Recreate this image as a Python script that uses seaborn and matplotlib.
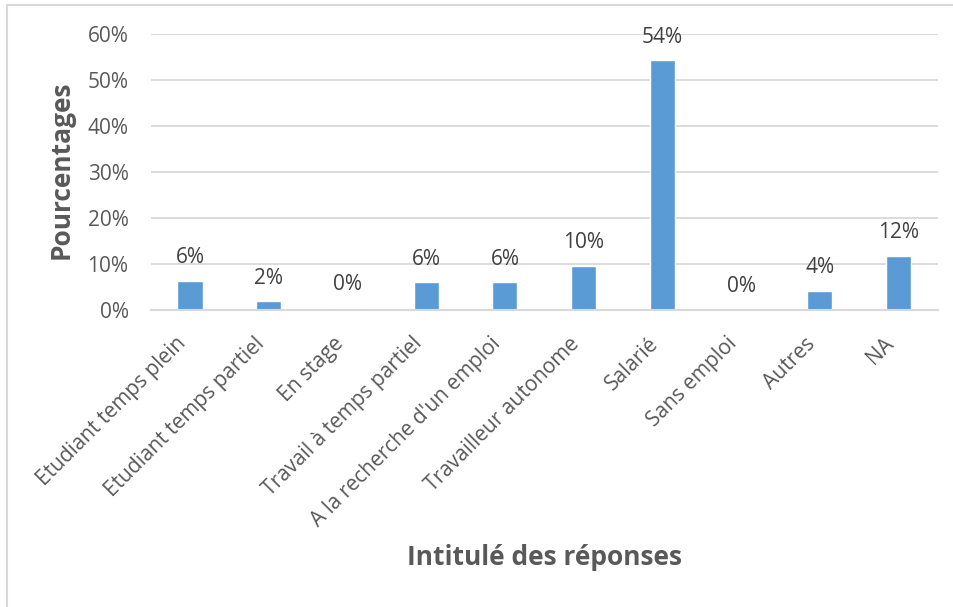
import matplotlib
matplotlib.use('Agg')
import matplotlib.pyplot as plt
from matplotlib.patches import Rectangle
import seaborn as sns

# values (percent)
categories = ['Etudiant temps plein', 'Etudiant temps partiel', 'En stage',
              'Travail à temps partiel', "A la recherche d'un emploi",
              'Travailleur autonome', 'Salarié', 'Sans emploi', 'Autres', 'NA']
values = [6.3, 1.8, 0.4, 5.9, 5.9, 9.5, 54.2, 0.0, 4.1, 11.7]
ytick_values = [0, 10, 20, 30, 40, 50, 60]

sns.set_theme(style='white')
plt.rcParams['font.family'] = ['Open Sans', 'DejaVu Sans']

fig = plt.figure(figsize=(9.54, 6.07), dpi=100)
ax = fig.add_axes([0.158, 0.490, 0.825, 0.4545])

sns.barplot(x=categories, y=values, color='#5B9BD5', saturation=1,
            width=0.32, ax=ax)

# value labels above bars
ax.bar_label(ax.containers[0], labels=['{:.0f}%'.format(v) for v in values],
             padding=9, fontsize=15, color='#404040')

ax.set_ylim(0, 60)
ax.set_yticks(ytick_values)
ax.set_yticklabels(['{}%'.format(v) for v in ytick_values])
ax.yaxis.grid(True, color='#d9d9d9', linewidth=1.3)
ax.set_axisbelow(True)

for s in ['top', 'right', 'left']:
    ax.spines[s].set_visible(False)
ax.spines['bottom'].set_color('#d9d9d9')
ax.spines['bottom'].set_linewidth(1.5)

ax.tick_params(axis='y', length=0, pad=16, labelsize=15, labelcolor='#595959')
ax.tick_params(axis='x', length=0, pad=17, labelsize=15, labelcolor='#595959')
plt.setp(ax.get_xticklabels(), rotation=45, ha='right', va='top')

ax.set_xlabel('')
ax.set_ylabel('')
fig.text(0.064, 0.72, 'Pourcentages', rotation=90, ha='center', va='center',
         fontsize=19, fontweight='bold', color='#595959')
fig.text(0.571, 0.082, 'Intitulé des réponses', ha='center', va='center',
         fontsize=19, fontweight='bold', color='#595959')

# chart frame like the original
fig.patches.append(Rectangle((7 / 954, -0.1), 1.2, 1.1 - 5 / 607,
                             transform=fig.transFigure, fill=False,
                             edgecolor='#d9d9d9', linewidth=1.5))

plt.savefig('out.png', dpi=100)
